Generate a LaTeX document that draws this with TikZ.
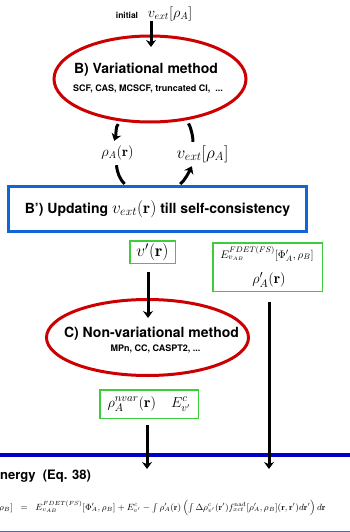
\documentclass[tikz,border=0pt]{standalone}
\usepackage{amsmath,amssymb}
\usepackage{fontspec}
\setsansfont{TeX Gyre Heros}
\usepackage{xcolor}
\usepackage{tikz}
\usetikzlibrary{arrows.meta, positioning, shapes.geometric}

\definecolor{ovalred}{RGB}{204,0,0}
\definecolor{loopblue}{RGB}{16,102,214}
\definecolor{resgreen}{RGB}{60,204,60}
\definecolor{eqblue}{RGB}{0,0,204}
\definecolor{rulegray}{RGB}{90,90,210}
\newcommand{\fsz}[1]{\fontsize{#1}{#1}\selectfont}

\begin{document}
\begin{tikzpicture}[
    x=1pt, y=-1pt,
    font=\sffamily\bfseries,
    oval/.style={draw=ovalred, line width=3pt, ellipse, inner sep=0pt},
    loopbox/.style={draw=loopblue, line width=3pt, inner sep=0pt,
                    minimum width=298pt, minimum height=45pt},
    res/.style={draw=resgreen, line width=1.5pt, inner sep=0pt},
    title/.style={font=\sffamily\bfseries\fsz{14}},
    sub/.style={font=\sffamily\bfseries\fsz{9}},
    mlabel/.style={inner sep=0pt},
    arr/.style={-{Stealth[length=7pt, width=10pt]}, line width=3pt},
    cyc/.style={line width=3pt},
]
\useasboundingbox (0,0) rectangle (350,532);

% B) variational step
\node[font=\sffamily\bfseries\fsz{8.5}] (initial) at (127,15) {initial};
\node[mlabel, font=\fsz{14.5}] (vinit) at (170,14) {$v_{ext}[\rho_A]$};
\node[oval, minimum width=192pt, minimum height=86pt] (varB) at (150,79) {};
\node[title] (varBtitle) at (146,70) {B) Variational method};
\node[sub] (varBsub) at (148,89) {SCF, CAS, MCSCF, truncated CI,\ \ ...};
\coordinate (varBin) at (151,47);

% B') self-consistency loop
\node[mlabel, minimum width=36pt, minimum height=24pt, font=\fsz{14}] (rhoA) at (117.5,153) {$\rho_A(\mathbf{r})$};
\node[mlabel, minimum width=56pt, minimum height=24pt, font=\fsz{17}] (vext) at (202.5,154) {$v_{ext}[\rho_A]$};
\node[loopbox, font=\sffamily\bfseries\fsz{14}] (update) at (157.5,209)
    {B') Updating {\fsz{16.5}$v_{ext}(\mathbf{r})$} till self-consistency};

% results of the loop
\node[res, minimum width=45.5pt, minimum height=22.5pt, font=\fsz{17}] (vprime) at (152.5,252) {$v'(\mathbf{r})$};
\node[res, minimum width=109.5pt, minimum height=48.5pt] (fdet) at (267.5,267) {};
\node[mlabel, font=\fsz{11}] (fdetE) at (267,254) {$E^{FDET(FS)}_{v_{AB}}[\Phi'_A,\rho_B]$};
\node[mlabel, font=\fsz{15}] (fdetrho) at (269,280) {$\rho'_A(\mathbf{r})$};

% C) non-variational step
\node[oval, minimum width=202pt, minimum height=76pt] (nvarC) at (147.5,337.5) {};
\node[title] (nvarCtitle) at (151.5,334) {C) Non-variational method};
\node[sub] (nvarCsub) at (155.5,349) {MPn, CC, CASPT2, ...};
\coordinate (nvarCin) at (148,318);
\node[res, minimum width=98.5pt, minimum height=28.5pt, font=\fsz{15}] (nvar) at (149,404)
    {$\rho_A^{nvar}(\mathbf{r})\quad E^c_{v'}$};

% energy expression
\draw[eqblue, line width=4pt] (0,455) -- (350,455);
\node[anchor=west, inner sep=0pt, font=\sffamily\bfseries\fsz{13}] (energy) at (0,476) {nergy\ \ (Eq. 38)};
\node[anchor=west, inner sep=0pt, font=\fsz{8.6}] (eq) at (-1,508)
    {$\rho_B] \;\;=\;\; E^{FDET(FS)}_{v_{AB}}[\Phi'_A,\rho_B] + E^c_{v'} - \int \rho'_A(\mathbf{r})
     \left( \int \Delta\rho^c_{v'}(\mathbf{r}') f^{\mathrm{nad}}_{xct}[\rho'_A,\rho_B](\mathbf{r},\mathbf{r}') d\mathbf{r}' \right) d\mathbf{r}$};
\draw[rulegray, line width=1pt] (0,531) -- (350,531);
\coordinate (energyin) at (147,469);
\coordinate (energyfdet) at (269,469);

% connectors
\draw[arr] (vinit.south -| varBin) -- (varBin);
\draw[arr, shorten <=4pt] (varB.236) .. controls +(-6,5) and +(2,-6) .. (rhoA.105);
\draw[cyc, shorten >=1.5pt] (rhoA.265) .. controls +(1,8) and +(-6,-6) .. (update.143);
\draw[arr, shorten <=1.5pt] (update.48) .. controls +(6,-5) and +(-3,6) .. (vext.229);
\draw[cyc, shorten >=4pt] (vext.128) .. controls +(0,-7) and +(4,5) .. (varB.311);
\draw[arr] ([xshift=-4.5pt, yshift=-8pt]vprime.south) -- (nvarCin);
\draw[arr] ([xshift=-2pt, yshift=-6pt]nvar.south) -- (energyin);
\draw[arr] ([xshift=1.5pt, yshift=-10pt]fdet.south) -- (energyfdet);
\end{tikzpicture}
\end{document}
